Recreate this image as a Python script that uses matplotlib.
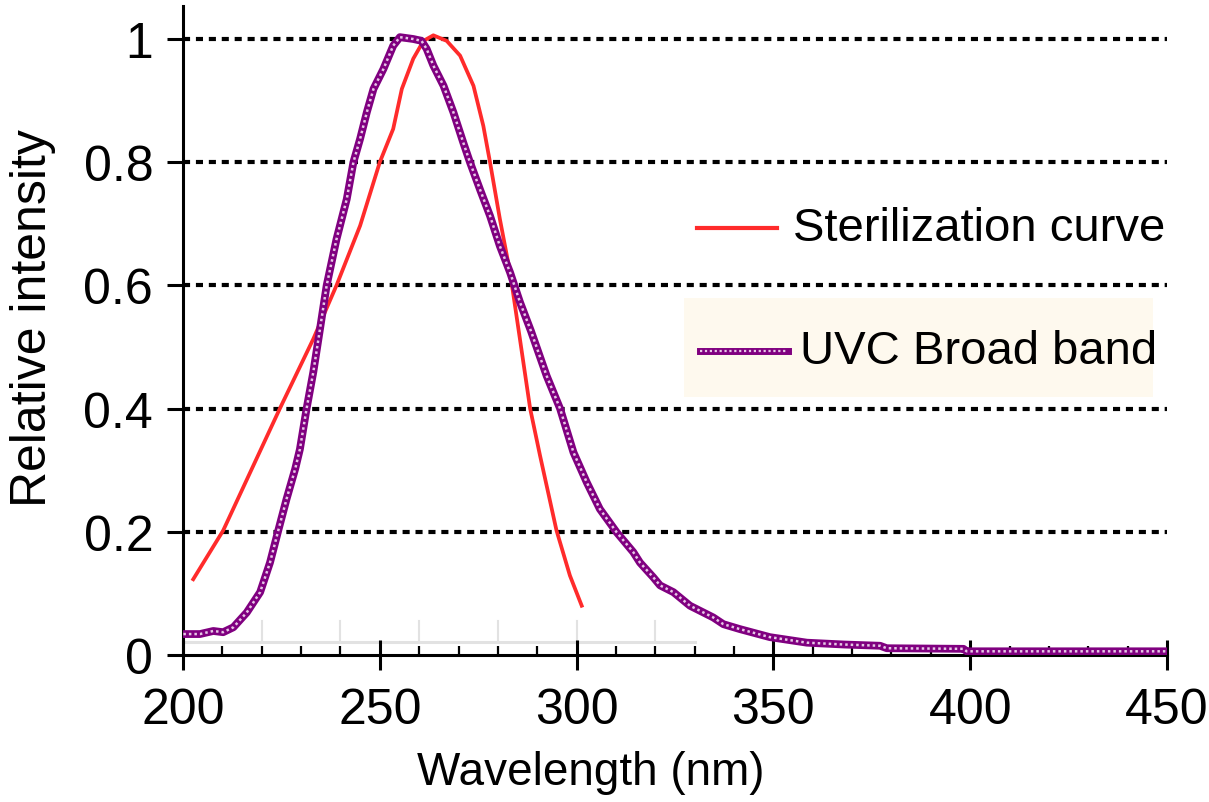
import numpy as np
import matplotlib
matplotlib.use("Agg")
import matplotlib.pyplot as plt
from matplotlib.lines import Line2D
from matplotlib.patches import Rectangle

plt.rcParams['font.family'] = ['Liberation Sans', 'DejaVu Sans']

# sterilization (germicidal) curve
ster_wl = [202.6, 210.2, 224.6, 233.1, 239.0, 245.0, 250.0, 253.4, 255.6, 258.5,
           261.1, 263.6, 267.0, 270.4, 273.8, 276.3, 278.0, 280.5, 283.1, 285.6,
           288.2, 290.7, 294.9, 298.3, 301.3]
ster_val = [0.123, 0.202, 0.400, 0.513, 0.600, 0.697, 0.800, 0.854, 0.919, 0.968,
            0.997, 1.006, 0.997, 0.973, 0.924, 0.859, 0.800, 0.708, 0.621, 0.513,
            0.400, 0.324, 0.202, 0.129, 0.080]

# UVC broad band spectrum
uvc_wl = [200.1, 204.3, 207.7, 210.2, 212.8, 216.2, 219.6, 222.1, 224.2, 226.3,
          228.5, 229.7, 231.4, 233.1, 234.8, 236.5, 239.0, 241.6, 243.3, 245.0,
          246.7, 248.4, 250.9, 253.4, 255.1, 258.5, 260.6, 261.9, 263.6, 266.2,
          268.7, 271.2, 272.9, 275.5, 278.0, 280.5, 283.1, 285.6, 288.4, 292.4,
          295.8, 299.2, 302.6, 305.9, 310.2, 314.4, 316.1, 319.5, 321.2, 324.6,
          328.8, 334.7, 337.3, 341.5, 349.1, 358.5, 368.0, 377.1, 378.8, 398.3,
          399.1, 450.0]
uvc_val = [0.034, 0.034, 0.039, 0.037, 0.045, 0.069, 0.102, 0.150, 0.202, 0.253,
           0.302, 0.334, 0.400, 0.459, 0.529, 0.600, 0.675, 0.740, 0.800, 0.838,
           0.881, 0.919, 0.951, 0.989, 1.003, 1.000, 0.997, 0.984, 0.957, 0.924,
           0.881, 0.832, 0.800, 0.755, 0.713, 0.664, 0.621, 0.573, 0.526, 0.453,
           0.400, 0.329, 0.280, 0.237, 0.199, 0.167, 0.150, 0.126, 0.113, 0.102,
           0.080, 0.061, 0.050, 0.042, 0.029, 0.020, 0.017, 0.015, 0.011, 0.010,
           0.006, 0.006]

x_ticks = [200, 250, 300, 350, 400, 450]
y_ticks = [0, 0.2, 0.4, 0.6, 0.8, 1.0]
y_tick_labels = ['0', '0.2', '0.4', '0.6', '0.8', '1']
ghost_ticks = [200, 220, 240, 260, 280, 300, 320]   # faint grey scale left in the image

RED = '#ff2b2b'
PURPLE = '#800080'
LIGHT = '#e6c8e6'

fig = plt.figure(figsize=(12.09, 8.03), dpi=100)
ax = fig.add_axes([183/1209, 1-656/803, 984/1209, 649/803])
ax.set_xlim(200, 450)
ax.set_ylim(0, 649/616)

# dotted horizontal grid
for yv in y_ticks[1:]:
    ax.axhline(yv, color='black', lw=3.0, ls=(0, (1.7, 1.4)), zorder=1)

# faint grey leftover scale
ax.plot([200, 330], [0.021, 0.021], color='#e2e2e2', lw=2.2, zorder=1, clip_on=False)
for g in ghost_ticks:
    ax.plot([g, g], [0.021, 0.055], color='#e2e2e2', lw=1.5, zorder=1)

ax.plot(ster_wl, ster_val, color=RED, lw=2.7, zorder=3)
ax.plot(uvc_wl, uvc_val, color=PURPLE, lw=5.6, zorder=4, solid_joinstyle='round')
ax.plot(uvc_wl, uvc_val, color=LIGHT, lw=1.8, ls=(0, (1.0, 1.2)), zorder=5)

for s in ['top', 'right']:
    ax.spines[s].set_visible(False)
for s in ['left', 'bottom']:
    ax.spines[s].set_linewidth(2.2)

ax.set_xticks(x_ticks)
ax.set_xticks(np.arange(200, 451, 10), minor=True)
ax.set_yticks(y_ticks)
ax.set_yticklabels(y_tick_labels)
ax.tick_params(axis='x', which='major', direction='inout', length=21.6, width=2.2,
               labelsize=36, pad=12)
ax.tick_params(axis='x', which='minor', direction='in', length=6.5, width=1.6)
ax.tick_params(axis='y', which='major', direction='out', length=11.5, width=2.2,
               labelsize=36, pad=10)

fig.text(33/1209, 1-318/803, 'Relative intensity', rotation=90, fontsize=36,
         ha='center', va='center')
fig.text(591/1209, 1-773/803, 'Wavelength (nm)', fontsize=33, ha='center', va='center')

# legend drawn by hand (second entry has its own cream box)
fig.patches.append(Rectangle((684/1209, 1-398/803), 469/1209, 99/803,
                             transform=fig.transFigure, facecolor='#fef9ee',
                             edgecolor='none', zorder=1))
fig.lines.append(Line2D([697/1209, 777/1209], [1-229/803, 1-229/803],
                        transform=fig.transFigure, color=RED, lw=3, zorder=2))
fig.text(793/1209, 1-229/803, 'Sterilization curve', fontsize=34, va='center', zorder=2)
fig.lines.append(Line2D([700/1209, 788/1209], [1-352/803, 1-352/803],
                        transform=fig.transFigure, color=PURPLE, lw=5.0, zorder=2))
fig.lines.append(Line2D([700/1209, 788/1209], [1-352/803, 1-352/803],
                        transform=fig.transFigure, color=LIGHT, lw=1.6,
                        ls=(0, (1.0, 1.2)), zorder=3))
fig.text(800/1209, 1-352/803, 'UVC Broad band', fontsize=34, va='center', zorder=3)

fig.savefig('out.png', dpi=100)
